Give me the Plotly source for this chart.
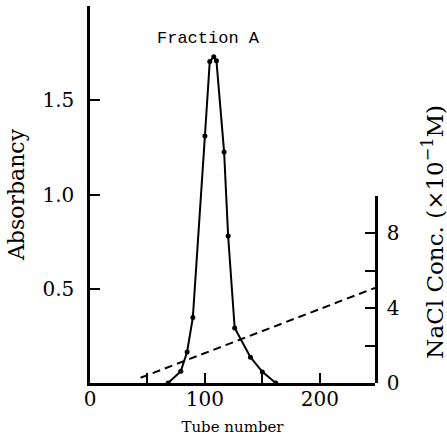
import plotly.graph_objects as go

# Absorbance profile (elution)
tube = [68, 79, 84.5, 89.5, 100, 104.2, 107.7, 110, 116.7, 120.2, 125.9, 139.6, 150, 161.6]
absorbancy = [0, 0.062, 0.165, 0.348, 1.311, 1.705, 1.731, 1.71, 1.226, 0.78, 0.292, 0.137, 0.059, 0]

# NaCl gradient
grad_tube = [44, 248]
nacl_conc = [0.28, 5.08]

# Tick settings (labelled step / unlabelled minor step)
x_tick_step, x_minor_step = 100, 50
y_tickvals = [0.5, 1.0, 1.5]
y2_tick_step, y2_minor_step = 4, 2

serif = "DejaVu Serif"

fig = go.Figure()
fig.add_trace(go.Scatter(
    x=tube, y=absorbancy, mode="lines+markers",
    line=dict(color="black", width=2),
    marker=dict(color="black", size=5),
    xaxis="x", yaxis="y", showlegend=False, hoverinfo="skip"))
fig.add_trace(go.Scatter(
    x=grad_tube, y=nacl_conc, mode="lines",
    line=dict(color="black", width=2, dash="8px,5px"),
    xaxis="x", yaxis="y2", showlegend=False, hoverinfo="skip"))

axis_common = dict(
    showline=True, linecolor="black", linewidth=2.5,
    showgrid=False, zeroline=False, automargin=False,
    ticks="inside", ticklen=10, tickwidth=2, tickcolor="black",
    tickfont=dict(family=serif, size=20, color="black"),
)
minor_style = dict(ticks="inside", ticklen=10, tickwidth=2, tickcolor="black", showgrid=False)

fig.update_layout(
    width=447, height=440,
    margin=dict(l=90, r=72, t=6, b=57),
    paper_bgcolor="white", plot_bgcolor="rgba(0,0,0,0)",
    font=dict(family=serif, color="black", size=20),
    xaxis=dict(
        range=[0, 248], domain=[0, 1], anchor="y",
        tickmode="linear", tick0=0, dtick=x_tick_step, ticklabelstandoff=-4,
        minor=dict(dtick=x_minor_step, tick0=0, **minor_style),
        title=dict(text="Tube number", font=dict(family=serif, size=15), standoff=12),
        **axis_common,
    ),
    yaxis=dict(
        range=[0, 2.0], domain=[0, 1], anchor="x",
        tickvals=y_tickvals, tickformat=".1f", ticklabelstandoff=9,
        title=dict(text="Absorbancy", font=dict(family=serif, size=22), standoff=12),
        **axis_common,
    ),
    yaxis2=dict(
        range=[0, 10], domain=[0, 0.4967], anchor="x", side="right",
        tickmode="linear", tick0=0, dtick=y2_tick_step, ticklabelstandoff=5,
        minor=dict(dtick=y2_minor_step, tick0=0, **minor_style),
        **axis_common,
    ),
    annotations=[
        dict(text="Fraction A", x=103.5, y=1.764, xref="x", yref="y",
             showarrow=False, xanchor="center", yanchor="bottom",
             font=dict(family="Liberation Mono", size=17, color="black")),
        dict(text="NaCl Conc. (×10<sup>−1</sup>M)", x=1.2035, y=0.4013,
             xref="paper", yref="paper", textangle=-90,
             showarrow=False, xanchor="center", yanchor="middle",
             font=dict(family=serif, size=23, color="black")),
    ],
)

fig.write_html("out.html", config={"displayModeBar": False},
               post_script="document.body.style.margin='0';")
